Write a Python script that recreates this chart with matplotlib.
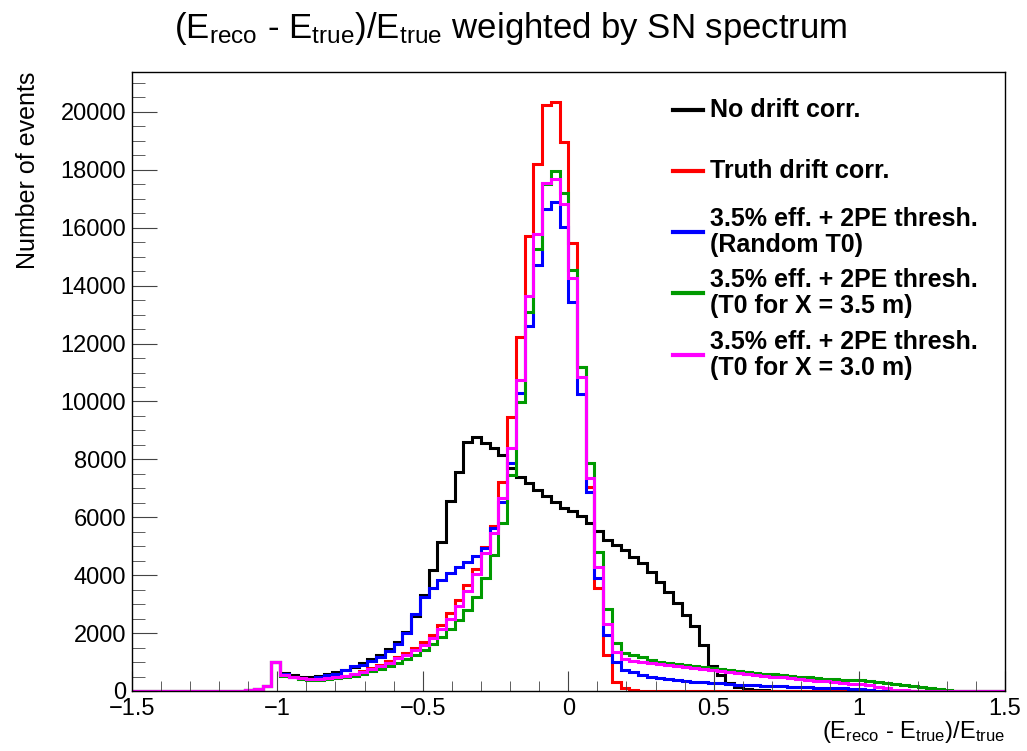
import numpy as np
import matplotlib
matplotlib.use("Agg")
import matplotlib.pyplot as plt
from matplotlib.ticker import MultipleLocator, FuncFormatter

plt.rcParams['font.family'] = ['Liberation Sans', 'DejaVu Sans']
plt.rcParams['mathtext.fontset'] = 'custom'
plt.rcParams['mathtext.rm'] = 'Liberation Sans'
plt.rcParams['mathtext.it'] = 'Liberation Sans:italic'
plt.rcParams['mathtext.bf'] = 'Liberation Sans:bold'

# 100 bins of 0.03 between -1.5 and 1.5
bin_edges = np.linspace(-1.5, 1.5, 101)

# bin contents, one row = 10 bins
no_drift = [0, 0, 0, 0, 0, 0, 0, 0, 0, 0,
            0, 0, 0, 30, 70, 170, 1010, 630, 550, 495,
            470, 520, 590, 645, 725, 840, 955, 1095, 1245, 1440,
            1700, 2050, 2600, 3300, 4180, 5160, 6550, 7576, 8600, 8780,
            8560, 8380, 8150, 7700, 7400, 7170, 6950, 6720, 6540, 6330,
            6200, 6030, 5800, 5540, 5215, 5040, 4860, 4640, 4410, 4120,
            3775, 3430, 3030, 2625, 2250, 1600, 850, 550, 280, 150,
            80, 40, 20, 10, 5, 0, 0, 0, 0, 0,
            0, 0, 0, 0, 0, 0, 0, 0, 0, 0,
            0, 0, 0, 0, 0, 0, 0, 0, 0, 0]

truth_drift = [0, 0, 0, 0, 0, 0, 0, 0, 0, 0,
               0, 0, 0, 30, 70, 170, 1010, 560, 500, 440,
               410, 415, 440, 480, 530, 600, 690, 790, 900, 1030,
               1180, 1320, 1500, 1700, 1950, 2280, 2680, 3150, 3650, 4200,
               4985, 5700, 7230, 9475, 12240, 15730, 18200, 20240, 20340, 18960,
               15470, 11200, 7060, 3550, 1260, 310, 90, 30, 15, 8,
               5, 0, 0, 0, 0, 0, 0, 0, 0, 0,
               0, 0, 0, 0, 0, 0, 0, 0, 0, 0,
               0, 0, 0, 0, 0, 0, 0, 0, 0, 0,
               0, 0, 0, 0, 0, 0, 0, 0, 0, 0]

random_t0 = [0, 0, 0, 0, 0, 0, 0, 0, 0, 0,
             0, 0, 0, 30, 70, 170, 1010, 570, 500, 440,
             430, 470, 540, 600, 735, 850, 900, 1040, 1190, 1390,
             1640, 2000, 2650, 3260, 3550, 3830, 4070, 4300, 4450, 4650,
             4950, 5620, 6540, 7890, 10300, 12620, 14710, 16640, 16900, 16040,
             13450, 10270, 6885, 3890, 1935, 1010, 725, 640, 560, 500,
             450, 410, 380, 350, 325, 300, 280, 260, 240, 215,
             200, 190, 180, 170, 160, 150, 140, 130, 120, 115,
             105, 95, 85, 60, 35, 15, 5, 0, 0, 0,
             0, 0, 0, 0, 0, 0, 0, 0, 0, 0]

t0_x35 = [0, 0, 0, 0, 0, 0, 0, 0, 0, 0,
          0, 0, 0, 30, 70, 170, 1000, 530, 470, 410,
          385, 385, 405, 435, 475, 530, 600, 680, 770, 870,
          980, 1100, 1250, 1420, 1610, 1850, 2150, 2450, 2800, 3260,
          3890, 4700, 5790, 7450, 9990, 13100, 15260, 17510, 17960, 17210,
          14540, 11200, 7865, 4810, 2820, 1670, 1325, 1250, 1160, 1080,
          1010, 960, 920, 885, 850, 815, 780, 750, 720, 690,
          660, 630, 600, 570, 545, 520, 495, 470, 445, 420,
          400, 385, 375, 365, 340, 300, 270, 230, 200, 170,
          140, 100, 60, 30, 10, 0, 0, 0, 0, 0]

t0_x30 = [0, 0, 0, 0, 0, 0, 0, 0, 0, 0,
          0, 0, 0, 30, 70, 170, 1010, 553, 495, 437,
          410, 410, 437, 472, 518, 587, 668, 760, 864, 979,
          1128, 1243, 1416, 1580, 1819, 2150, 2500, 2950, 3450, 4040,
          4755, 5450, 6655, 8380, 10750, 13640, 15790, 17560, 17690, 16820,
          14280, 10830, 7345, 4295, 2315, 1360, 1100, 1030, 990, 965,
          940, 910, 870, 835, 805, 775, 740, 705, 670, 635,
          600, 565, 530, 500, 470, 440, 410, 385, 355, 330,
          305, 280, 255, 225, 190, 150, 100, 50, 25, 12,
          6, 3, 0, 0, 0, 0, 0, 0, 0, 0]

series = [no_drift, truth_drift, random_t0, t0_x35, t0_x30]
colors = ['black', '#ff0000', '#0000ff', '#009a00', '#ff00ff']
labels = ['No drift corr.',
          'Truth drift corr.',
          '3.5% eff. + 2PE thresh.\n(Random T0)',
          '3.5% eff. + 2PE thresh.\n(T0 for X = 3.5 m)',
          '3.5% eff. + 2PE thresh.\n(T0 for X = 3.0 m)']

fig = plt.figure(figsize=(10.27, 7.51), dpi=100)
ax = fig.add_axes([0.1282, 0.0799, 0.8502, 0.8242])

for vals, c in zip(series, colors):
    ax.stairs(vals, bin_edges, color=c, linewidth=2.2)

ax.set_xlim(-1.5, 1.5)
ax.set_ylim(0, 21380)

# ROOT style labels: -1 instead of -1.0
ax.xaxis.set_major_formatter(FuncFormatter(lambda v, p: ('%g' % round(v, 2)).replace('-', '\u2212')))
ax.xaxis.set_major_locator(MultipleLocator(0.5))
ax.xaxis.set_minor_locator(MultipleLocator(0.1))
ax.yaxis.set_major_locator(MultipleLocator(2000))
ax.yaxis.set_minor_locator(MultipleLocator(500))
ax.tick_params(axis='both', which='both', direction='in', labelsize=17, color='#444444')
ax.tick_params(axis='x', which='major', length=14.4, pad=5)
ax.tick_params(axis='x', which='minor', length=7.2)
ax.tick_params(axis='y', which='major', length=18, pad=4)
ax.tick_params(axis='y', which='minor', length=9)
for s in ax.spines.values():
    s.set_linewidth(1.0)

ax.set_ylabel('Number of events', fontsize=18, loc='top')
ax.yaxis.set_label_coords(-0.105, 1.0)
ax.set_xlabel(r'(E$_{\mathrm{reco}}$ - E$_{\mathrm{true}}$)/E$_{\mathrm{true}}$', fontsize=17, loc='right')
ax.xaxis.set_label_coords(1.0, -0.045)

fig.text(0.497, 1 - 38 / 751,
         r'(E$_{\mathrm{reco}}$ - E$_{\mathrm{true}}$)/E$_{\mathrm{true}}$ weighted by SN spectrum',
         ha='center', va='baseline', fontsize=25)

# legend drawn by hand so every entry gets the same height, like ROOT's TLegend
leg_y = [0.9386, 0.840, 0.742, 0.6425, 0.5428]
for y, c, lab in zip(leg_y, colors, labels):
    ax.plot([0.620, 0.654], [y, y], color=c, linewidth=3, transform=ax.transAxes, clip_on=False)
    ax.text(0.6625, y, lab, transform=ax.transAxes, ha='left', va='center',
            fontsize=18, fontweight='bold', linespacing=1.1)

fig.savefig('out.png', dpi=100)
